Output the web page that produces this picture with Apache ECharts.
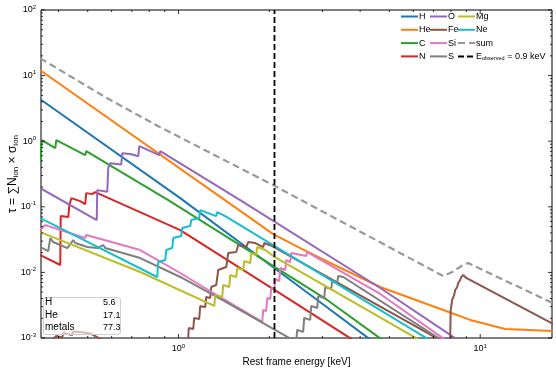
<!DOCTYPE html>
<html><head><meta charset="utf-8">
<script src="https://cdn.jsdelivr.net/npm/echarts@6/dist/echarts.min.js"></script>
<style>html,body{margin:0;padding:0;background:#fff}#c{width:556px;height:371px}</style>
</head><body><div id="c"></div>
<script>
// ---- axis ranges / ticks ----
const xMin = 0.35, xMax = 17.3, yMin = 1e-3, yMax = 1e2;
const observedEnergy = 2.08; // 0.9 keV observed, rest frame
const xMajorTicks = [1, 10];
const xMinorTicks = [0.4,0.5,0.6,0.7,0.8,0.9,2,3,4,5,6,7,8,9];
const yMajorTicks = [1e-3,1e-2,1e-1,1,10,100];
const yMinorTicks = [];
[1e-3,1e-2,1e-1,1,10].forEach(d=>{for(let m=2;m<=9;m++) yMinorTicks.push(+(d*m).toPrecision(3));});

// ---- series data [E keV, tau] ----
const H = [[0.348,4.36],[1.013,0.1356],[2.796,0.00422],[4.30,0.00096]];
const He = [[0.348,12.04],[2.060,0.0384],[2.532,0.02351],[3.184,0.0139],[4.662,0.005992],[7.541,0.002677],[9.265,0.001886],[12.10,0.001375],[17.5,0.001282]];
const C = [[0.348,0.479],[0.352,1.036],[0.3903,0.7824],[0.3933,1.036],[0.4905,0.6122],[0.4943,0.7045],[0.9244,0.1265],[3.111,0.003801],[4.70,0.00096]];
const N = [[0.348,0.0184],[0.4054,0.01296],[0.4069,0.07219],[0.431,0.06967],[0.4343,0.1025],[0.441,0.1356],[0.4721,0.1221],[0.4905,0.1099],[0.4943,0.1616],[0.5176,0.1561],[0.5295,0.1674],[1.013,0.0442],[2.346,0.0038],[3.75,0.00096]];
const O = [[0.348,0.1926],[0.5356,0.06272],[0.5377,0.1795],[0.5803,0.17],[0.5848,0.3882],[0.5937,0.4626],[0.6457,0.44],[0.6507,0.657],[0.6918,0.64],[0.7355,0.5909],[0.7411,0.8391],[0.863,0.6122],[0.8696,0.7045],[1.601,0.1265],[4.662,0.005786],[8.35,0.00096]];
const Fe = [[0.3756,0.000872],[0.3933,0.001076],[0.4117,0.001021],[0.4148,0.001196],[0.4443,0.001115],[0.4477,0.00126],[0.4721,0.001238],[0.4757,0.001327],[0.5097,0.001175],[0.5587,0.000935],[1.0661,0.000614],[1.077,0.00101],[1.081,0.001424],[1.1187,0.00137],[1.1273,0.002022],[1.1711,0.00195],[1.18,0.00308],[1.2256,0.00295],[1.2351,0.004222],[1.2735,0.004076],[1.2832,0.005993],[1.3335,0.006429],[1.3541,0.01088],[1.4391,0.01208],[1.4613,0.01973],[1.5533,0.02044],[1.5773,0.02612],[1.6764,0.02435],[1.7022,0.02903],[1.7957,0.02803],[1.9089,0.02435],[1.9231,0.02803],[2.0447,0.02522],[7.148,0.001003],[7.892,0.000614],[7.953,0.00101],[7.984,0.002677],[8.076,0.003801],[8.2,0.004529],[8.262,0.0054],[8.39,0.005993],[8.454,0.006898],[8.584,0.00766],[8.65,0.008511],[8.784,0.009128],[8.986,0.00822],[9.055,0.008815],[17.5,0.00163]];
const Si = [[0.348,0.04419],[0.3616,0.05265],[0.4905,0.03339],[0.4943,0.03709],[0.7465,0.02193],[1.013,0.00979],[1.2075,0.005993],[1.8944,0.001758],[1.9089,0.002677],[1.9532,0.002584],[1.9682,0.004076],[2.0136,0.003937],[2.0292,0.005786],[2.0761,0.005588],[2.092,0.007932],[2.1571,0.007395],[2.1737,0.01167],[2.2581,0.01088],[2.2751,0.01544],[2.3458,0.01439],[2.3638,0.01973],[2.6505,0.01777],[2.6707,0.02044],[4.662,0.00469],[7.6,0.00096]];
const S = [[0.348,0.02435],[0.3699,0.02117],[0.3756,0.03339],[0.3843,0.02903],[0.4277,0.02351],[0.4477,0.03112],[0.4546,0.02803],[0.4982,0.02435],[0.5377,0.02351],[0.5627,0.02612],[0.5715,0.02351],[0.7465,0.01656],[1.013,0.008511],[1.3956,0.003801],[2.4551,0.000872],[2.4738,0.001327],[2.5891,0.001238],[2.6089,0.002022],[2.7315,0.001886],[2.7537,0.00308],[2.8827,0.002871],[2.9051,0.004372],[3.0407,0.004076],[3.0639,0.005993],[3.2071,0.005588],[3.2316,0.007395],[3.3574,0.006898],[3.383,0.008815],[3.5146,0.008511],[7.36,0.00096]];
const Mg = [[0.348,0.04119],[0.7465,0.01014],[1.3134,0.00308],[1.3235,0.004529],[1.3956,0.004222],[1.4064,0.006429],[1.4723,0.005993],[1.4837,0.009128],[1.5533,0.008511],[1.5654,0.01167],[1.6383,0.01088],[1.6512,0.01491],[1.7283,0.0139],[1.7418,0.01973],[1.8091,0.0184],[1.8233,0.02435],[1.9386,0.02193],[2.0602,0.01777],[6.22,0.00096]];
const Ne = [[0.348,0.0673],[0.8499,0.00851],[0.8564,0.01439],[0.9035,0.01544],[0.9104,0.02193],[0.953,0.02351],[0.9603,0.03339],[1.0207,0.03581],[1.0287,0.04739],[1.0934,0.05084],[1.1018,0.06272],[1.1711,0.0673],[1.18,0.0891],[1.3335,0.07219],[1.3437,0.08303],[1.4281,0.07219],[6.72,0.00096]];
const Sum = [[0.348,18.34],[0.5803,4.514],[0.8696,1.633],[2.06,0.214],[7.541,0.00881],[8.076,0.01014],[8.784,0.01296],[9.126,0.0139],[17.5,0.00335]];

const seriesNames = ['H','He','C','N','O','Fe','Si','S','Mg','Ne'];
const seriesData = [H,He,C,N,O,Fe,Si,S,Mg,Ne];
const seriesColors = ['#1f77b4','#ff7f0e','#2ca02c','#d62728','#9467bd','#8c564b','#e377c2','#7f7f7f','#bcbd22','#17becf'];
const eobsName = 'E_observed = 0.9 keV';

const tableLabels = ['H','He','metals'];
const tableValues = ['5.6','17.1','77.3'];

const FONT = '"Liberation Sans", Arial, sans-serif';
const chart = echarts.init(document.getElementById('c'), null, {renderer:'canvas'});

function powLabel(v){
  const l = Math.log10(v), e = Math.round(l);
  if (Math.abs(l-e) > 1e-6) return '';
  return '{b|10}{s|' + e + '}';
}
const labelRich = {
  b:{fontSize:9, fontFamily:FONT, color:'#000', lineHeight:12},
  s:{fontSize:6, fontFamily:FONT, color:'#000', verticalAlign:'top', lineHeight:12}
};

function tickSeries(values, isX, len){
  return {
    type:'custom', silent:true, clip:false, z:20,
    data: values.map(v => isX ? [v, 1] : [1, v]),
    renderItem: function(params, api){
      const v = api.value(isX ? 0 : 1);
      let a, b;
      if (isX){
        a = api.coord([v, yMin]); b = api.coord([v, yMax]);
        return {type:'group', children:[
          {type:'line', shape:{x1:a[0],y1:a[1],x2:a[0],y2:a[1]-len}, style:{stroke:'#000',lineWidth:0.8}},
          {type:'line', shape:{x1:b[0],y1:b[1],x2:b[0],y2:b[1]+len}, style:{stroke:'#000',lineWidth:0.8}}
        ]};
      } else {
        a = api.coord([xMin, v]); b = api.coord([xMax, v]);
        return {type:'group', children:[
          {type:'line', shape:{x1:a[0],y1:a[1],x2:a[0]+len,y2:a[1]}, style:{stroke:'#000',lineWidth:0.8}},
          {type:'line', shape:{x1:b[0],y1:b[1],x2:b[0]-len,y2:b[1]}, style:{stroke:'#000',lineWidth:0.8}}
        ]};
      }
    }
  };
}

const series = seriesNames.map((n,i)=>({
  name:n, type:'line', data:seriesData[i], symbol:'none', showSymbol:false,
  lineStyle:{width:2, color:seriesColors[i]}, itemStyle:{color:seriesColors[i]},
  z:3, clip:true, silent:true, animation:false
}));
series.push({name:'sum', type:'line', data:Sum, symbol:'none', showSymbol:false,
  lineStyle:{width:2.2, color:'#999999', type:[7,4]}, itemStyle:{color:'#999999'}, z:4, clip:true, silent:true, animation:false});
series.push({name:eobsName, type:'line', data:[[observedEnergy,yMin],[observedEnergy,yMax]], symbol:'none', showSymbol:false,
  lineStyle:{width:1.8, color:'#000', type:[6,3]}, itemStyle:{color:'#000'}, z:5, clip:true, silent:true, animation:false});
series.push(tickSeries(xMajorTicks, true, 4));
series.push(tickSeries(xMinorTicks, true, 2));
series.push(tickSeries(yMajorTicks, false, 4));
series.push(tickSeries(yMinorTicks, false, 2));

const legendCommon = {
  orient:'vertical', top:12, itemWidth:17, itemHeight:8, itemGap:4.3,
  itemStyle:{opacity:0, borderWidth:0},
  textStyle:{fontSize:9, fontFamily:FONT, color:'#000', padding:[0,0,0,-4],
    rich:{n:{fontSize:9, fontFamily:FONT, color:'#000'}, sub:{fontSize:5.5, fontFamily:FONT, color:'#000', verticalAlign:'bottom', lineHeight:11}}},
  formatter: name => name === eobsName ? '{n|E}{sub|observed}{n| = 0.9 keV}' : name,
  selectedMode:false, padding:0
};

const option = {
  animation:false,
  backgroundColor:'#fff',
  grid:{left:41, right:4, top:10, bottom:33, show:true, borderColor:'#000', borderWidth:1, backgroundColor:'transparent', containLabel:false, outerBoundsMode:'none'},
  legend:[
    Object.assign({}, legendCommon, {left:400, data:seriesNames.slice(0,4)}),
    Object.assign({}, legendCommon, {left:429, data:seriesNames.slice(4,8)}),
    Object.assign({}, legendCommon, {left:457, data:['Mg','Ne','sum',eobsName]})
  ],
  xAxis:{type:'log', logBase:10, min:xMin, max:xMax,
    axisLine:{show:false}, axisTick:{show:false}, splitLine:{show:false}, minorTick:{show:false},
    axisLabel:{formatter:powLabel, rich:labelRich, margin:5, showMinLabel:true, showMaxLabel:true},
    name:'Rest frame energy [keV]', nameLocation:'middle', nameGap:19, nameMoveOverlap:false,
    nameTextStyle:{fontSize:10, fontFamily:FONT, color:'#000'}},
  yAxis:{type:'log', logBase:10, min:yMin, max:yMax,
    axisLine:{show:false}, axisTick:{show:false}, splitLine:{show:false}, minorTick:{show:false},
    axisLabel:{formatter:powLabel, rich:labelRich, margin:5},
    name:'{t|τ = ∑N}{sub|ion}{t| × σ}{sub|ion}', nameLocation:'middle', nameGap:21, nameRotate:90, nameMoveOverlap:false,
    nameTextStyle:{rich:{t:{fontSize:12, fontFamily:FONT, color:'#000'}, sub:{fontSize:8, fontFamily:FONT, color:'#000', verticalAlign:'bottom', lineHeight:15}}}},
  graphic:[
    {type:'rect', shape:{x:43.5, y:297.5, width:77, height:37, r:2}, style:{fill:'rgba(255,255,255,0.6)', stroke:'#d0d0d0', lineWidth:1}, z:50},
    ...tableLabels.map((t,i)=>({type:'text', left:45, top:297.5+i*12.3, z:51, style:{text:t, fontSize:10, fontFamily:FONT, fill:'#000'}})),
    ...tableValues.map((t,i)=>({type:'text', left:103, top:298.5+i*12.3, z:51, style:{text:t, fontSize:9, fontFamily:FONT, fill:'#000'}}))
  ],
  series:series
};
chart.setOption(option);
</script></body></html>
